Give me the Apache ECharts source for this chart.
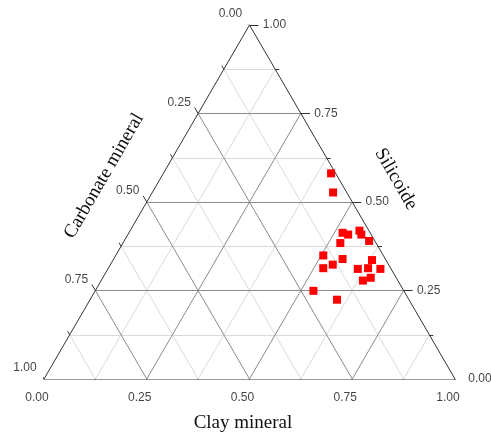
<!DOCTYPE html>
<html><head><meta charset="utf-8">
<script src="https://cdn.jsdelivr.net/npm/echarts@6/dist/echarts.min.js"></script>
<style>html,body{margin:0;padding:0;background:#fff}#c{width:491px;height:436px}</style>
</head><body><div id="c"></div>
<script>
// ternary data (fractions): clay, silicoide, carbonate
const clay      = [0.408,0.440,0.520,0.536,0.558,0.568,0.596,0.529,0.505,0.557,0.541,0.523,0.630,0.608,0.632,0.663,0.652,0.637,0.531,0.601];
const silicoide = [0.581,0.527,0.413,0.408,0.419,0.408,0.390,0.384,0.349,0.339,0.323,0.313,0.336,0.311,0.313,0.311,0.286,0.278,0.249,0.224];
const carbonate = [0.011,0.033,0.067,0.056,0.023,0.024,0.014,0.087,0.146,0.104,0.136,0.164,0.034,0.081,0.055,0.026,0.062,0.085,0.220,0.175];
const tickValues = [0, 0.125, 0.25, 0.375, 0.5, 0.625, 0.75, 0.875, 1];
const tickLabels = ['0.00','0.25','0.50','0.75','1.00'];
const majorValues = [0, 0.25, 0.5, 0.75, 1];

const SQ = Math.sqrt(3) / 2;
function tern(c, s, b) {
  const t = c + s + b;
  c /= t; s /= t;
  return [c + s / 2, s * SQ];
}
const PX = 1 / 410; // approx data units per pixel
function isMajor(v){ return Math.abs(v*4 - Math.round(v*4)) < 1e-9; }

const minor = [], major = [];
for (const v of tickValues) {
  if (v === 0 || v === 1) continue;
  const tgt = isMajor(v) ? major : minor;
  tgt.push({coords:[tern(0, v, 1 - v), tern(1 - v, v, 0)]});
  tgt.push({coords:[tern(v, 0, 1 - v), tern(v, 1 - v, 0)]});
  tgt.push({coords:[tern(1 - v, 0, v), tern(0, 1 - v, v)]});
}
const border = [
  {coords:[tern(0,0,1), tern(1,0,0)]},
  {coords:[tern(1,0,0), tern(0,1,0)]},
  {coords:[tern(0,1,0), tern(0,0,1)]}
];
// ticks
const ticks = [];
for (const v of tickValues) {
  const L = (isMajor(v) ? 7 : 4) * PX;
  const Lr = (isMajor(v) ? 9 : 4) * PX;
  let p = tern(v, 0, 1 - v);
  ticks.push({coords:[p, [p[0] - 0.5 * L, p[1] - SQ * L]]});
  p = tern(1 - v, v, 0);
  ticks.push({coords:[p, [p[0] + Lr, p[1]]]});
  p = tern(0, 1 - v, v);
  ticks.push({coords:[p, [p[0] - 0.5 * L, p[1] + SQ * L]]});
}
const labelFont = {fontFamily:'Liberation Sans', fontSize:12, color:'#111'};
const bottomLabels = majorValues.map((v,i)=>({value:tern(v,0,1-v), name:tickLabels[i]}));
const rightLabels  = majorValues.map((v,i)=>({value:tern(1-v,v,0), name:tickLabels[i]}));
const leftLabels   = majorValues.map((v,i)=>({value:tern(0,1-v,v), name:tickLabels[i]}));
function labelSeries(data, off) {
  return {type:'scatter', data, symbolSize:1, itemStyle:{color:'rgba(0,0,0,0)'}, silent:true, z:5,
    label:{show:true, position:'inside', offset:off, formatter:p=>p.name, ...labelFont}};
}
const points = clay.map((c,i)=>tern(c, silicoide[i], carbonate[i]));

const chart = echarts.init(document.getElementById('c'), null, {renderer:'canvas'});
chart.setOption({
  animation:false,
  backgroundColor:'#fff',
  grid:{left:44, right:36, top:25, bottom:57},
  xAxis:{type:'value', min:0, max:1, show:false},
  yAxis:{type:'value', min:0, max:SQ, show:false},
  series:[
    {type:'lines', coordinateSystem:'cartesian2d', data:minor, silent:true, z:1, lineStyle:{color:'#dadada', width:1, opacity:1}},
    {type:'lines', coordinateSystem:'cartesian2d', data:major, silent:true, z:2, lineStyle:{color:'#8a8a8a', width:1, opacity:1}},
    {type:'lines', coordinateSystem:'cartesian2d', data:border, silent:true, z:3, lineStyle:{color:'#333', width:1, opacity:1}},
    {type:'lines', coordinateSystem:'cartesian2d', data:ticks, silent:true, z:3, lineStyle:{color:'#333', width:1, opacity:1}},
    labelSeries(bottomLabels, [-7, 19]),
    labelSeries(rightLabels, [25, 0]),
    labelSeries(leftLabels, [-19, -11]),
    {type:'scatter', data:points, symbol:'rect', symbolSize:8, itemStyle:{color:'#ff0000', opacity:1}, z:10}
  ],
  graphic:[
    {type:'text', x:243, y:423, style:{text:'Clay mineral', font:'19px "Liberation Serif"', fill:'#111', textAlign:'center', textVerticalAlign:'middle'}},
    {type:'text', x:104, y:176, rotation:Math.PI/3, style:{text:'Carbonate mineral', font:'19px "Liberation Serif"', fill:'#111', textAlign:'center', textVerticalAlign:'middle'}},
    {type:'text', x:396, y:179, rotation:-Math.PI/3, style:{text:'Silicoide', font:'19px "Liberation Serif"', fill:'#111', textAlign:'center', textVerticalAlign:'middle'}}
  ]
});
</script></body></html>
